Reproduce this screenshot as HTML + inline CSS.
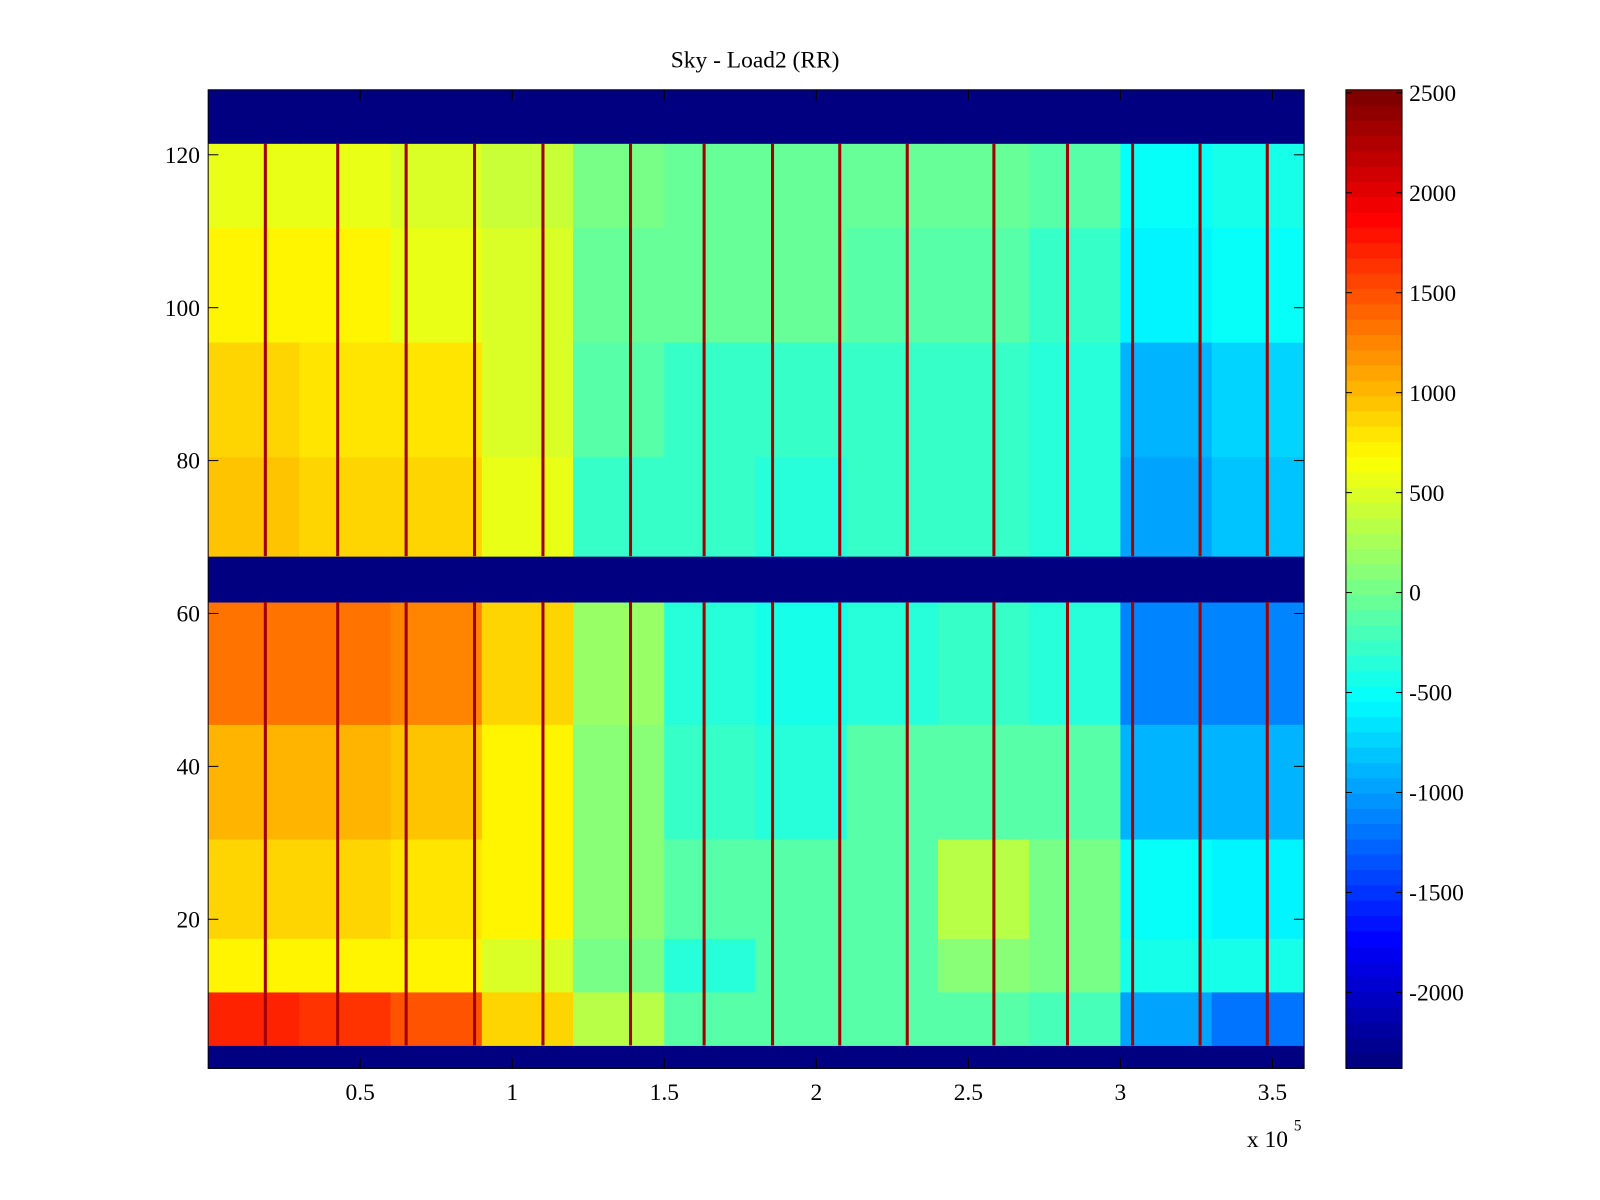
<!DOCTYPE html>
<html><head><meta charset="utf-8"><style>
html,body{margin:0;padding:0;background:#fff;}
svg{display:block;font-family:"Liberation Serif",serif;}
</style></head><body>
<svg id="chart" width="1600" height="1200">
<g transform="scale(1.0204)">
<text x="740" y="66" font-size="23" text-anchor="middle">Sky - Load2 (RR)</text>
<g id="cells"></g>
<g id="axes"></g>
<g id="cbar"></g>
</g>
</svg>
<script>
// ---- data ----
const xMax = 3.604; // x10^5
const colEdges = [0,0.3,0.6,0.9,1.2,1.5,1.8,2.1,2.4,2.7,3.0,3.3,3.604];
const rowBands = [[0.5,3.5],[3.5,10.5],[10.5,17.5],[17.5,30.5],[30.5,45.5],[45.5,61.5],[61.5,67.5],[67.5,80.5],[80.5,95.5],[95.5,110.5],[110.5,121.5],[121.5,128.5]];
const bandValues = [
 [-2380,-2380,-2380,-2380,-2380,-2380,-2380,-2380,-2380,-2380,-2380,-2380],
 [1700,1600,1500,900,300,-150,-150,-100,-100,-200,-1000,-1200],
 [700,700,700,500,0,-350,-150,-100,100,0,-450,-450],
 [900,900,800,700,100,-150,-150,-100,300,0,-500,-600],
 [1050,1000,950,700,100,-250,-350,-150,-100,-150,-900,-900],
 [1350,1350,1250,900,200,-350,-450,-350,-250,-350,-1100,-1100],
 [-2380,-2380,-2380,-2380,-2380,-2380,-2380,-2380,-2380,-2380,-2380,-2380],
 [950,900,850,600,-250,-250,-350,-250,-250,-350,-1000,-800],
 [850,800,800,500,-150,-250,-250,-250,-250,-350,-900,-700],
 [700,700,600,500,-50,-50,-50,-150,-150,-250,-600,-500],
 [600,600,500,400,0,-50,-50,-50,-50,-150,-500,-400],
 [-2380,-2380,-2380,-2380,-2380,-2380,-2380,-2380,-2380,-2380,-2380,-2380]
];
const stripeX = [0.188,0.426,0.651,0.876,1.101,1.389,1.631,1.856,2.077,2.299,2.584,2.826,3.040,3.262,3.483];
const stripeValue = 2300;
const xTicks = [0.5,1,1.5,2,2.5,3,3.5];
const xTickLabels = ["0.5","1","1.5","2","2.5","3","3.5"];
const yTicks = [20,40,60,80,100,120];
const yTickLabels = ["20","40","60","80","100","120"];
const cTicks = [2500,2000,1500,1000,500,0,-500,-1000,-1500,-2000];
const cMin = -2380, cMax = 2515;

// ---- layout ----
const L=204,R=1278,T=88,B=1047;
const yMin=0.5,yMax=128.5;
const sx=v=>L+(v/xMax)*(R-L);
const sy=v=>B-(v-yMin)/(yMax-yMin)*(B-T);
const CL=1319,CR=1374;
const cy=v=>B-(v-cMin)/(cMax-cMin)*(B-T);
const NS="http://www.w3.org/2000/svg";
function jet(v){
  let t=(v-cMin)/(cMax-cMin); t=Math.max(0,Math.min(1,t));
  t=Math.floor(t*64)/63;
  const f=x=>Math.max(0,Math.min(1,x));
  const r=f(1.5-Math.abs(4*t-3)), g=f(1.5-Math.abs(4*t-2)), b=f(1.5-Math.abs(4*t-1));
  return `rgb(${Math.round(r*255)},${Math.round(g*255)},${Math.round(b*255)})`;
}
function mk(tag,attrs,parent){const e=document.createElementNS(NS,tag);for(const k in attrs)e.setAttribute(k,attrs[k]);parent.appendChild(e);return e;}
const cells=document.getElementById('cells');
rowBands.forEach((rb,i)=>{
  bandValues[i].forEach((v,j)=>{
    const x0=sx(colEdges[j]),x1=sx(colEdges[j+1]);
    const el=mk('rect',{x:x0,y:sy(rb[1]),width:x1-x0+0.5,height:sy(rb[0])-sy(rb[1])+0.5,fill:jet(v)},cells);
    
    
  });
});
stripeX.forEach(s=>{
  [[3.5,61.5],[67.5,121.5]].forEach(r=>{
    const el=mk('rect',{x:sx(s)-1.5,y:sy(r[1]),width:3,height:sy(r[0])-sy(r[1]),fill:jet(stripeValue)},cells);
    
    
  });
});
const ax=document.getElementById('axes');
mk('rect',{x:L,y:T,width:R-L,height:B-T,fill:'none',stroke:'#000','stroke-width':1},ax);
xTicks.forEach((t,i)=>{
  const x=sx(t);
  mk('line',{x1:x,x2:x,y1:B,y2:B-10,stroke:'#000'},ax);
  mk('line',{x1:x,x2:x,y1:T,y2:T+10,stroke:'#000'},ax);
  const tx=mk('text',{x:x,y:1078,'font-size':23,'text-anchor':'middle'},ax);
  tx.textContent=xTickLabels[i];
  
  
});
yTicks.forEach((t,i)=>{
  const y=sy(t);
  mk('line',{x1:L,x2:L+10,y1:y,y2:y,stroke:'#000'},ax);
  mk('line',{x1:R,x2:R-10,y1:y,y2:y,stroke:'#000'},ax);
  const tx=mk('text',{x:196,y:y+8,'font-size':23,'text-anchor':'end'},ax);
  tx.textContent=yTickLabels[i];
  
  
});
const ex=mk('text',{x:1222,y:1124,'font-size':23},ax);
ex.textContent='x 10';


const ex2=mk('text',{x:1268,y:1108,'font-size':15},ax);
ex2.textContent='5';
const cb=document.getElementById('cbar');
for(let k=0;k<64;k++){
  const v0=cMin+(cMax-cMin)*k/64,v1=cMin+(cMax-cMin)*(k+1)/64;
  const el=mk('rect',{x:CL,y:cy(v1),width:CR-CL,height:cy(v0)-cy(v1)+0.5,fill:jet((v0+v1)/2)},cb);
  
  
}
mk('rect',{x:CL,y:T,width:CR-CL,height:B-T,fill:'none',stroke:'#000'},cb);
cTicks.forEach(t=>{
  const y=cy(t);
  mk('line',{x1:CL,x2:CL+6,y1:y,y2:y,stroke:'#000'},cb);
  mk('line',{x1:CR,x2:CR-6,y1:y,y2:y,stroke:'#000'},cb);
  const tx=mk('text',{x:1381,y:y+8,'font-size':23},cb);
  tx.textContent=String(t);
  
  
});
</script>
</body></html>
